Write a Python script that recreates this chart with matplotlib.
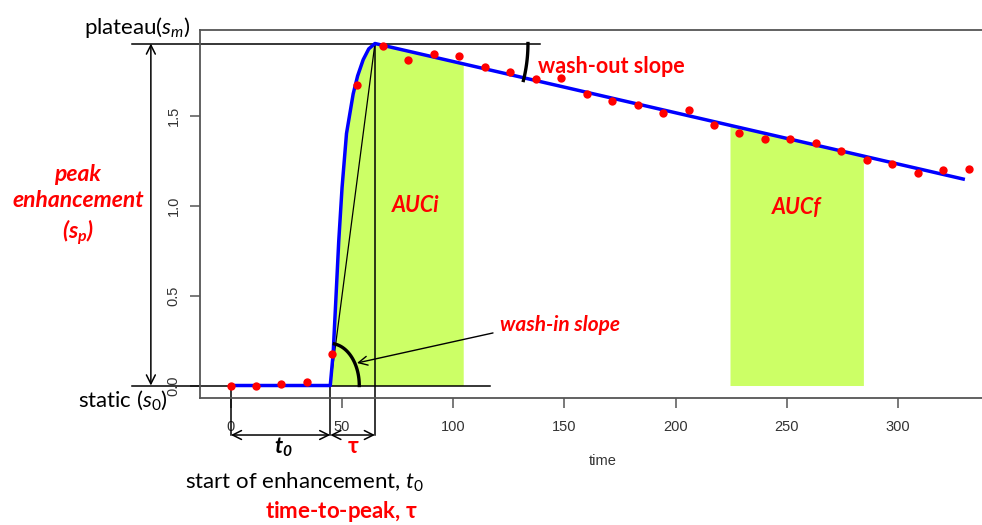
import numpy as np
import matplotlib.pyplot as plt

plt.rcParams['font.family'] = ['Lato', 'DejaVu Sans']
plt.rcParams['mathtext.fontset'] = 'custom'
plt.rcParams['mathtext.rm'] = 'Lato'
plt.rcParams['mathtext.it'] = 'Lato:italic'
plt.rcParams['mathtext.bf'] = 'Lato:bold'
plt.rcParams['mathtext.bfit'] = 'Lato:italic:bold'

# measured signal (red dots)
time_pts = [0, 11.4, 22.6, 34.1, 45.4, 56.8, 68.2, 79.8, 91.3, 102.7, 114.1,
            125.7, 137.2, 148.7, 160.1, 171.5, 182.9, 194.5, 205.9, 217.3,
            228.7, 240.2, 251.6, 263.2, 274.5, 286.0, 297.5, 308.9, 320.4, 332.0]
signal_pts = [0.0, 0.0, 0.01, 0.018, 0.175, 1.668, 1.886, 1.81, 1.843, 1.832,
              1.768, 1.742, 1.701, 1.71, 1.62, 1.582, 1.56, 1.516, 1.529, 1.446,
              1.403, 1.368, 1.368, 1.349, 1.303, 1.253, 1.232, 1.182, 1.196, 1.204]

# fitted curve (blue)
fit_t = [0, 44.7, 46.0, 47.2, 48.5, 50.0, 52.0, 55.0, 57.0, 59.5, 62.0, 64.8, 329.4]
fit_v = [0, 0, 0.18, 0.475, 0.8, 1.1, 1.40, 1.62, 1.72, 1.81, 1.87, 1.90, 1.147]

t0 = 44.7
t_peak = 64.8
s_m = 1.90
auc_i = (44.7, 104.5)
auc_f = (224.5, 284.5)

x_ticks = [0, 50, 100, 150, 200, 250, 300]
y_ticks = [0.0, 0.5, 1.0, 1.5]
y_ticklabels = ['0.0', '0.5', '1.0', '1.5']

green = '#ccff66'
red = '#ff0000'

fig = plt.figure(figsize=(9.82, 5.25), dpi=100)
ax = fig.add_axes([200 / 982, 1 - 398 / 525, 805 / 982, 368 / 525])
ax.set_xlim(-13.9, 348.2)
ax.set_ylim(-0.0694, 1.975)

# AUC areas
for a, b in [auc_i, auc_f]:
    tt = np.linspace(a, b, 200)
    ax.fill_between(tt, 0, np.interp(tt, fit_t, fit_v), color=green, lw=0, zorder=1)

# reference lines
kw = dict(color='black', lw=1.1, clip_on=False, zorder=2)
ax.plot([-44.7, 139], [s_m, s_m], **kw)
ax.plot([-44.7, 116.7], [0, 0], **kw)
ax.plot([0, 0], [0, -0.275], **kw)
ax.plot([t0, t0], [0, -0.275], **kw)
ax.plot([t_peak, t_peak], [s_m, -0.275], **kw)
ax.plot([t0, t_peak], [0, s_m], color='black', lw=0.9, zorder=2)

arrow = dict(arrowstyle='<->', color='black', lw=1.1, shrinkA=0, shrinkB=0, mutation_scale=16)
ax.annotate('', xy=(-36, s_m), xytext=(-36, 0), arrowprops=arrow, annotation_clip=False)
ax.annotate('', xy=(0, -0.275), xytext=(t0, -0.275), arrowprops=arrow, annotation_clip=False)
ax.annotate('', xy=(t0, -0.275), xytext=(t_peak, -0.275), arrowprops=arrow, annotation_clip=False)


def arc_px(center, rx, ry, a1, a2):
    # arc drawn in pixel space around a data point
    cx, cy = ax.transData.transform(center)
    ang = np.deg2rad(np.linspace(a1, a2, 60))
    pts = np.column_stack([cx + rx * np.cos(ang), cy + ry * np.sin(ang)])
    return ax.transData.inverted().transform(pts)


fig.canvas.draw()
arc1 = arc_px((t0, 0), 29, 42, 0, 82)
ax.plot(arc1[:, 0], arc1[:, 1], color='black', lw=2.4, zorder=5, clip_on=False)
arc2 = arc_px((t_peak, s_m), 153, 153, -14, 0)
ax.plot(arc2[:, 0], arc2[:, 1], color='black', lw=2.4, zorder=5, clip_on=False)

ax.annotate('', xy=(56.7, 0.125), xytext=(117.9, 0.292),
            arrowprops=dict(arrowstyle='->', color='black', lw=1.0, shrinkA=0, shrinkB=0,
                            mutation_scale=16))

# fit and data
ax.plot(fit_t, fit_v, color='#0000ff', lw=2.5, zorder=3)
ax.plot(time_pts, signal_pts, 'o', color=red, ms=6, mec='none', zorder=4, clip_on=False)

# axes styling
for s in ax.spines.values():
    s.set_color('#555555')
    s.set_linewidth(1.3)
ax.set_xticks(x_ticks)
ax.set_yticks(y_ticks)
ax.set_yticklabels(y_ticklabels, rotation=90, va='center')
ax.tick_params(direction='out', length=7, width=1.1, color='#555555',
               labelsize=10.5, labelcolor='#333333')
ax.tick_params(axis='x', pad=9)
ax.tick_params(axis='y', pad=7)
for lbl in ax.get_xticklabels() + ax.get_yticklabels():
    lbl.set_fontfamily('Liberation Sans')
ax.set_xlabel('time', fontsize=10.5, color='#333333', family='Liberation Sans', labelpad=14)

# annotations
ax.text(-42.3, 1.99, r'plateau($\mathit{s_m}$)', fontsize=16, ha='center', va='center',
        clip_on=False)
ax.text(-48.6, -0.08, r'static ($\mathit{s_0}$)', fontsize=16, ha='center', va='center')
ax.text(-68.8, 1.0, 'peak\nenhancement\n' + r'($\mathbfit{s_p}$)', fontsize=16.5, color=red,
        fontweight='bold', style='italic', ha='center', va='center', linespacing=1.3)
ax.text(83.2, 1.0, 'AUCi', fontsize=15.5, color=red, fontweight='bold', style='italic',
        ha='center', va='center')
ax.text(254.6, 0.99, 'AUCf', fontsize=15.5, color=red, fontweight='bold', style='italic',
        ha='center', va='center')
ax.text(138, 1.775, 'wash-out slope', fontsize=15.5, color=red, fontweight='bold',
        ha='left', va='center')
ax.text(121, 0.336, 'wash-in slope', fontsize=15, color=red, fontweight='bold',
        style='italic', ha='left', va='center')
ax.text(23.4, -0.342, r'$\mathbfit{t_0}$', fontsize=16, ha='center', va='center')
ax.text(54.9, -0.342, r'$\mathbf{\tau}$', fontsize=16, color=red, ha='center', va='center')
ax.text(-20.7, -0.54, r'start of enhancement, $\mathit{t_0}$', fontsize=16,
        ha='left', va='center')
ax.text(15.3, -0.70, r'time-to-peak, $\mathbf{\tau}$', fontsize=16, color=red,
        fontweight='bold', ha='left', va='center')

fig.savefig('out.png', dpi=100)
